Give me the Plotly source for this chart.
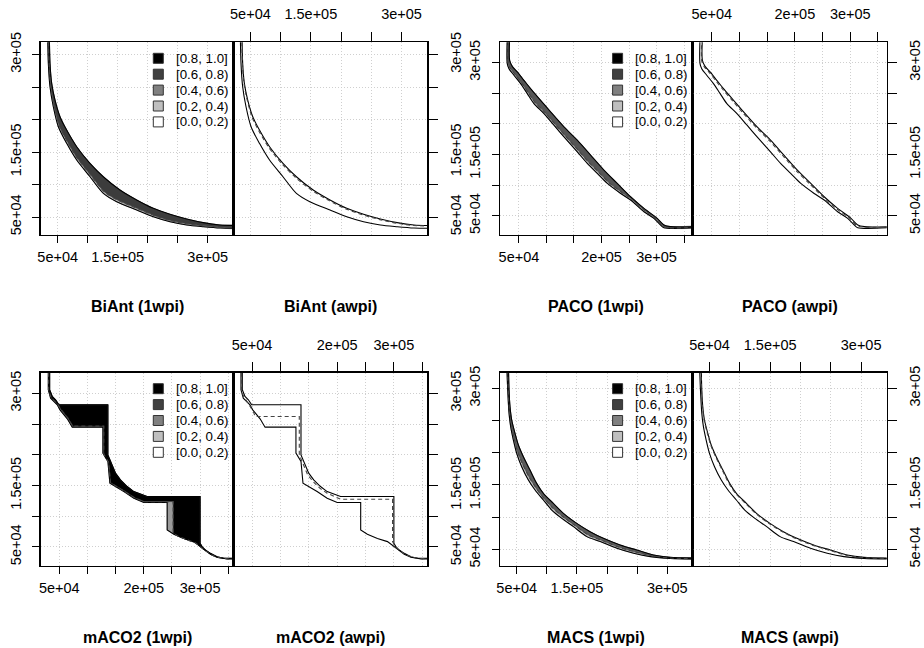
import plotly.graph_objects as go

# ---------------- data ----------------
ALGOS = ["BiAnt", "PACO", "mACO2", "MACS"]

# BiAnt
BIANT_WORST_X = [36100, 37200, 40000, 45550, 53900, 65000, 81700, 103900, 126100, 153900, 181700, 209400, 237200, 265000, 292800, 320600, 350000]
BIANT_WORST_Y = [330000, 286500, 255700, 230000, 204400, 183800, 158200, 132600, 112000, 91500, 76200, 63300, 54100, 46900, 41300, 37700, 36700]
BIANT_BEST_X = [33300, 34450, 37200, 42750, 51100, 65000, 81700, 103900, 126100, 148300, 181700, 209400, 237200, 265000, 292800, 320600, 350000]
BIANT_BEST_Y = [330000, 286500, 250500, 219700, 189000, 163400, 137700, 112000, 86400, 73600, 60800, 50500, 42800, 37700, 35100, 33100, 32600]
BIANT_MED1_X = [34500, 35600, 38500, 44000, 52500, 66500, 83000, 105000, 127500, 150000, 183000, 210500, 238500, 266000, 293500, 321500, 350000]
BIANT_MED1_Y = [330000, 286500, 251500, 221500, 191000, 165500, 140000, 114500, 89000, 76000, 63000, 52500, 44500, 39500, 36500, 34500, 34000]
BIANT_MED2_X = [36000, 36800, 39500, 45000, 53000, 64000, 80500, 102500, 125000, 152500, 180500, 208000, 236000, 264000, 292000, 320000, 350000]
BIANT_MED2_Y = [330000, 286000, 255000, 229000, 203000, 182500, 157000, 131500, 110500, 90500, 75200, 62500, 53300, 46000, 40500, 37000, 36000]

# PACO
PACO_WORST_X = [33000, 33000, 37800, 46900, 59000, 71100, 89300, 107500, 131800, 156000, 180200, 204500, 228700, 252900, 277200, 301400, 313500, 325600, 370000]
PACO_WORST_Y = [340000, 303600, 293800, 284600, 271000, 257400, 238400, 219400, 195000, 173300, 148900, 124400, 102700, 81000, 62000, 45700, 34900, 32200, 32200]
PACO_BEST_X = [28700, 28700, 31800, 40900, 53000, 65100, 77200, 95400, 113600, 131800, 156000, 174200, 192400, 210600, 234800, 252900, 277200, 295300, 307400, 313500, 370000]
PACO_BEST_Y = [340000, 298200, 290000, 279200, 265600, 249300, 233000, 216700, 197700, 178700, 154300, 135300, 119000, 102700, 86400, 75600, 56600, 45700, 34900, 30600, 30600]
PACO_MED1_X = [30000, 30000, 33500, 42500, 54500, 66500, 79000, 97000, 115500, 134000, 158000, 176500, 195000, 213000, 237000, 255000, 279000, 297500, 309500, 316000, 370000]
PACO_MED1_Y = [340000, 300000, 291500, 281000, 267000, 251500, 235000, 218500, 199500, 180500, 156500, 137500, 121000, 104500, 88000, 77000, 58000, 46500, 35500, 31200, 31200]
PACO_MED2_X = [32000, 32000, 36800, 46000, 58000, 70000, 88000, 106000, 130500, 154500, 178800, 203000, 227300, 251500, 275800, 300000, 312000, 324000, 370000]
PACO_MED2_Y = [340000, 302000, 292500, 283000, 269500, 256000, 237000, 218000, 193500, 172000, 147500, 123000, 101500, 80000, 61000, 44800, 34000, 31500, 31500]

# mACO2
MACO2_WORST_X = [32900, 32900, 37600, 43500, 49400, 136300, 136300, 139800, 144000, 149900, 158700, 170600, 182400, 206000, 300000, 300000, 303500, 309400, 318300, 330000, 341800, 370000]
MACO2_WORST_Y = [345000, 305700, 294800, 289400, 281300, 281300, 199800, 191700, 180800, 170000, 159100, 148300, 140100, 132000, 132000, 56000, 50500, 45000, 39600, 34200, 31500, 31500]
MACO2_BEST_X = [30500, 30500, 34600, 40500, 46400, 51200, 58300, 64200, 73000, 127400, 127400, 132100, 136300, 139800, 149900, 164700, 182400, 200100, 241500, 241500, 253300, 271000, 288700, 306500, 318300, 330000, 347800, 370000]
MACO2_BEST_Y = [345000, 305700, 292100, 286700, 281300, 273100, 265000, 258500, 244900, 244900, 202600, 194400, 189000, 153700, 148300, 140100, 129300, 122200, 122200, 77700, 70600, 63600, 58700, 46200, 38100, 33200, 30500, 30500]
MACO2_MED1_X = [31000, 31000, 35500, 41500, 47500, 52500, 59500, 65500, 74000, 129000, 129000, 133500, 137500, 141000, 151000, 166000, 183500, 201000, 252100, 252100, 262000, 277000, 292000, 307500, 319500, 331000, 348500, 370000]
MACO2_MED1_Y = [345000, 305000, 292800, 287300, 281800, 274200, 266000, 259500, 246500, 246500, 201000, 193500, 188000, 154500, 149000, 141000, 130000, 123800, 123800, 72300, 67000, 61500, 56500, 45000, 37500, 32800, 30800, 30800]
MACO2_MED2_X = [31700, 31700, 35800, 40500, 46400, 52400, 55300, 133300, 133300, 137500, 142200, 148100, 157600, 169400, 182400, 206000, 297600, 297600, 303500, 312400, 321200, 333100, 347800, 370000]
MACO2_MED2_Y = [345000, 303000, 293800, 286700, 278600, 270400, 262300, 262300, 199800, 190600, 178100, 167300, 156400, 145600, 137400, 127600, 127600, 58700, 49500, 42400, 37000, 33200, 31000, 31000]

# MACS
MACS_WORST_X = [36200, 37300, 38900, 41700, 47200, 52800, 61100, 72100, 83200, 94300, 110900, 127500, 149700, 171800, 194000, 221700, 249400, 277100, 304800, 360000]
MACS_WORST_Y = [340000, 297400, 271500, 250800, 230100, 212000, 193800, 173100, 152400, 136900, 121400, 105900, 90300, 77400, 67000, 56700, 48900, 41100, 37500, 36000]
MACS_BEST_X = [33400, 35100, 37300, 40000, 44500, 50000, 58300, 69400, 80500, 94300, 108200, 124900, 144300, 166500, 188700, 216400, 244100, 271800, 304800, 360000]
MACS_BEST_Y = [340000, 297400, 261100, 240400, 219700, 199000, 178300, 157600, 142100, 126600, 111000, 98100, 85200, 69700, 62000, 51600, 43900, 38700, 36000, 35000]
MACS_MED1_X = [34500, 36000, 38000, 40800, 45500, 51000, 59500, 70500, 81500, 94300, 109500, 126000, 146000, 168500, 191000, 219000, 246500, 274500, 304800, 360000]
MACS_MED1_Y = [340000, 297400, 264000, 243500, 223000, 203000, 183000, 162500, 146000, 130000, 114500, 101000, 87500, 72500, 64000, 53500, 46000, 40000, 36500, 35500]
MACS_MED2_X = [35800, 36800, 38400, 41200, 46600, 52200, 60400, 71400, 82400, 93500, 110100, 126700, 148900, 171000, 193200, 220900, 248600, 276300, 304000, 360000]
MACS_MED2_Y = [340000, 297000, 271000, 250200, 229500, 211400, 193200, 172400, 151700, 136200, 120700, 105200, 89600, 76800, 66400, 56100, 48300, 40600, 37000, 35600]

# axis ranges
X_RANGES = {"BiAnt": [21700, 342700], "PACO": [15500, 365800], "mACO2": [17000, 358900], "MACS": [22300, 342200]}
Y_RANGES = {"BiAnt": [22300, 318900], "PACO": [18600, 333000], "mACO2": [19000, 333500], "MACS": [24100, 324200]}

# ticks
X_TICKS = {"BiAnt": [50000, 100000, 150000, 200000, 250000, 300000],
           "PACO": [50000, 100000, 150000, 200000, 250000, 300000, 350000],
           "mACO2": [50000, 100000, 150000, 200000, 250000, 300000, 350000],
           "MACS": [50000, 100000, 150000, 200000, 250000, 300000]}
X_TICKTEXT = {"BiAnt": ["5e+04", "", "1.5e+05", "", "", "3e+05"],
              "PACO": ["5e+04", "", "", "2e+05", "", "3e+05", ""],
              "mACO2": ["5e+04", "", "", "2e+05", "", "3e+05", ""],
              "MACS": ["5e+04", "", "1.5e+05", "", "", "3e+05"]}
Y_TICKS = [50000, 100000, 150000, 200000, 250000, 300000]
Y_TICKTEXT = ["5e+04", "", "1.5e+05", "", "", "3e+05"]

LEGEND_LABELS = ["[0.8, 1.0]", "[0.6, 0.8)", "[0.4, 0.6)", "[0.2, 0.4)", "[0.0, 0.2)"]
LEGEND_COLORS = ["#000000", "#404040", "#808080", "#bfbfbf", "#ffffff"]
SUFFIX_LEFT = "(1wpi)"
SUFFIX_RIGHT = "(awpi)"

DATA = {
    "BiAnt": (BIANT_WORST_X, BIANT_WORST_Y, BIANT_BEST_X, BIANT_BEST_Y, BIANT_MED1_X, BIANT_MED1_Y, BIANT_MED2_X, BIANT_MED2_Y),
    "PACO": (PACO_WORST_X, PACO_WORST_Y, PACO_BEST_X, PACO_BEST_Y, PACO_MED1_X, PACO_MED1_Y, PACO_MED2_X, PACO_MED2_Y),
    "mACO2": (MACO2_WORST_X, MACO2_WORST_Y, MACO2_BEST_X, MACO2_BEST_Y, MACO2_MED1_X, MACO2_MED1_Y, MACO2_MED2_X, MACO2_MED2_Y),
    "MACS": (MACS_WORST_X, MACS_WORST_Y, MACS_BEST_X, MACS_BEST_Y, MACS_MED1_X, MACS_MED1_Y, MACS_MED2_X, MACS_MED2_Y),
}
DARK_FILL = {"BiAnt": "#3c3c3c", "PACO": "#555555", "mACO2": "#000000", "MACS": "#5a5a5a"}
LIGHT_FILL = {"BiAnt": "#bfbfbf", "PACO": "#bfbfbf", "mACO2": "#9a9a9a", "MACS": "#bfbfbf"}
LINE_SHAPE = {"BiAnt": "spline", "PACO": "spline", "mACO2": "linear", "MACS": "spline"}

# ---------------- layout geometry (pixels) ----------------
W, H = 924, 648
FONT = "Liberation Sans, Arial, Helvetica, sans-serif"
PAIR_X = {"BiAnt": (40.7, 233.3, 427.3), "PACO": (500.0, 692.7, 886.7),
          "mACO2": (40.7, 233.3, 427.3), "MACS": (500.0, 692.7, 886.7)}
PAIR_Y = {"BiAnt": (42.3, 235.0), "PACO": (42.3, 235.0),
          "mACO2": (372.7, 566.0), "MACS": (372.7, 566.0)}
TITLE_Y = {"BiAnt": 306.5, "PACO": 306.5, "mACO2": 637.0, "MACS": 637.0}


def px_x(p):
    return p / W


def px_y(p):
    return 1 - p / H


fig = go.Figure()
layout = dict(template="none", width=W, height=H, margin=dict(l=0, r=0, t=0, b=0, pad=0),
              paper_bgcolor="white", plot_bgcolor="white", showlegend=False,
              font=dict(family=FONT, size=14, color="black"))
shapes = []
annotations = []

for k, algo in enumerate(ALGOS):
    wx, wy, bx, by, m1x, m1y, m2x, m2y = DATA[algo]
    shp = LINE_SHAPE[algo]
    x0, xm, x1 = PAIR_X[algo]
    yt, yb = PAIR_Y[algo]
    for side in (0, 1):
        idx = 2 * k + side + 1
        xa = "x" if idx == 1 else f"x{idx}"
        ya = "y" if idx == 1 else f"y{idx}"
        xkey = "xaxis" if idx == 1 else f"xaxis{idx}"
        ykey = "yaxis" if idx == 1 else f"yaxis{idx}"
        dom_x = [px_x(x0), px_x(xm)] if side == 0 else [px_x(xm), px_x(x1)]
        dom_y = [px_y(yb), px_y(yt)]
        common = dict(showline=True, linecolor="black", linewidth=1.3, mirror=True,
                      ticks="outside", tickcolor="black", tickwidth=1, automargin=False,
                      showgrid=True, gridcolor="#cfcfcf", gridwidth=1, griddash="1px,2px",
                      zeroline=False, tickfont=dict(family=FONT, size=14.5, color="black"))
        layout[xkey] = dict(common, domain=dom_x, anchor=ya, range=X_RANGES[algo],
                            tickmode="array", tickvals=X_TICKS[algo], ticktext=X_TICKTEXT[algo],
                            side="bottom" if side == 0 else "top",
                            ticklen=7 if side == 0 else 9,
                            ticklabelstandoff=1 if side == 0 else 7)
        layout[ykey] = dict(common, domain=dom_y, anchor=xa, range=Y_RANGES[algo],
                            tickmode="array", tickvals=Y_TICKS, ticktext=Y_TICKTEXT,
                            side="left" if side == 0 else "right", tickangle=-90,
                            ticklen=7 if side == 0 else 9,
                            ticklabelstandoff=6 if side == 0 else 6)

        if side == 0:
            # light band between grand best and grand worst
            fig.add_trace(go.Scatter(x=wx + bx[::-1], y=wy + by[::-1], xaxis=xa, yaxis=ya,
                                     mode="lines", fill="toself", fillcolor=LIGHT_FILL[algo],
                                     line=dict(width=0.6, color="#7f7f7f", shape=shp, smoothing=0.8),
                                     hoverinfo="skip"))
            # dark band between left median and grand worst
            fig.add_trace(go.Scatter(x=wx + m1x[::-1], y=wy + m1y[::-1], xaxis=xa, yaxis=ya,
                                     mode="lines", fill="toself", fillcolor=DARK_FILL[algo],
                                     line=dict(width=0.6, color="#404040", shape=shp, smoothing=0.8),
                                     hoverinfo="skip"))
            mx, my = m1x, m1y
        else:
            mx, my = m2x, m2y
        fig.add_trace(go.Scatter(x=wx, y=wy, xaxis=xa, yaxis=ya, mode="lines",
                                 line=dict(color="black", width=1.1, shape=shp, smoothing=0.8),
                                 hoverinfo="skip"))
        fig.add_trace(go.Scatter(x=bx, y=by, xaxis=xa, yaxis=ya, mode="lines",
                                 line=dict(color="black", width=1.1, shape=shp, smoothing=0.8),
                                 hoverinfo="skip"))
        fig.add_trace(go.Scatter(x=mx, y=my, xaxis=xa, yaxis=ya, mode="lines",
                                 line=dict(color="#444444", width=1.1, dash="4px,3px",
                                           shape=shp, smoothing=0.8),
                                 hoverinfo="skip"))

        # panel title
        cx = (x0 + xm) / 2 if side == 0 else (xm + x1) / 2
        annotations.append(dict(xref="paper", yref="paper", x=px_x(cx), y=px_y(TITLE_Y[algo]),
                                text="<b>%s %s</b>" % (algo, SUFFIX_LEFT if side == 0 else SUFFIX_RIGHT),
                                showarrow=False, xanchor="center", yanchor="middle",
                                font=dict(family=FONT, size=16, color="black")))

        if side == 0:
            # legend drawn inside the left panel
            pw = xm - x0
            ph = yb - yt
            for j, (lab, col) in enumerate(zip(LEGEND_LABELS, LEGEND_COLORS)):
                cy = 16 + j * 15.9
                shapes.append(dict(type="rect", xref=f"{xa} domain", yref=f"{ya} domain",
                                   x0=112.6 / pw, x1=122.6 / pw,
                                   y0=1 - (cy + 5) / ph, y1=1 - (cy - 5) / ph,
                                   fillcolor=col, line=dict(color="#333333", width=1)))
                annotations.append(dict(xref=f"{xa} domain", yref=f"{ya} domain",
                                        x=133.0 / pw, y=1 - cy / ph, text=lab, showarrow=False,
                                        xanchor="left", yanchor="middle",
                                        font=dict(family=FONT, size=13.3, color="black")))
    # thicker divider between the two panels of a pair
    shapes.append(dict(type="line", xref="paper", yref="paper", x0=px_x(xm), x1=px_x(xm),
                       y0=px_y(yb), y1=px_y(yt), line=dict(color="black", width=2.2)))

layout["shapes"] = shapes
layout["annotations"] = annotations
fig.update_layout(**layout)
fig.write_html("out.html", config={"displayModeBar": False, "staticPlot": True},
               post_script="document.body.style.margin='0';document.body.style.padding='0';")
